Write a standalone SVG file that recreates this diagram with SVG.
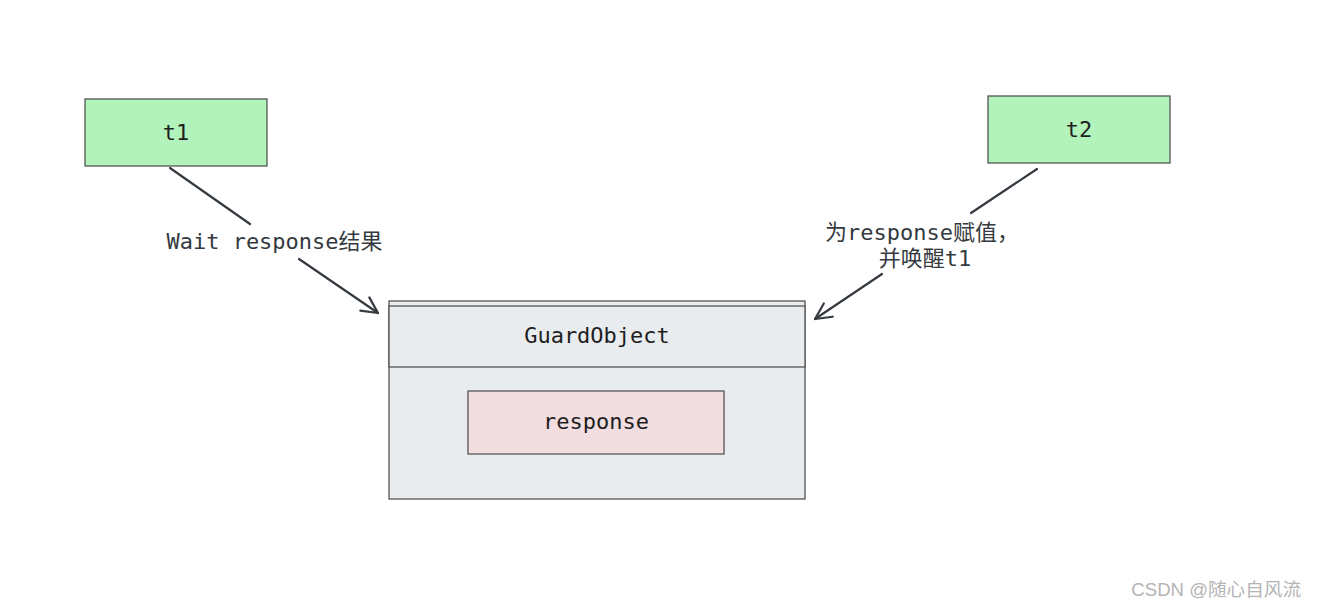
<svg xmlns="http://www.w3.org/2000/svg" width="1317" height="608" viewBox="0 0 1317 608">
<style>
.box{stroke:#555555;stroke-width:1.3}
.green{fill:#b2f2bb}
.gray{fill:#e9ecef}
.pink{fill:#f2dde0}
.t{font-family:"DejaVu Sans Mono","Noto Sans CJK SC",monospace;font-size:22px;fill:#1e1e1e;text-anchor:middle}
.lbl{font-family:"DejaVu Sans Mono","Noto Sans CJK SC",monospace;font-size:22px;fill:#343a40;text-anchor:middle}
.conn{stroke:#343a40;stroke-width:2.2;fill:none;stroke-linecap:round}
</style>
<defs>
<marker id="arr" viewBox="0 0 20 20" refX="18" refY="10" markerWidth="20" markerHeight="20" markerUnits="userSpaceOnUse" orient="auto">
<path d="M2,2 L18,10 L2,18" fill="none" stroke="#343a40" stroke-width="2.2" stroke-linecap="round" stroke-linejoin="round"/>
</marker>
</defs>
<rect width="1317" height="608" fill="#ffffff"/>
<g id="t1">
<rect class="box green" x="85" y="99" width="182" height="67"/>
<text class="t" x="176" y="140">t1</text>
</g>
<g id="t2">
<rect class="box green" x="988" y="96" width="182" height="67"/>
<text class="t" x="1079" y="137">t2</text>
</g>
<g id="guardobject">
<rect class="box gray" x="389" y="301" width="416" height="198"/>
<rect class="box gray" x="389" y="306" width="416" height="61"/>
<text class="t" x="597" y="343">GuardObject</text>
</g>
<g id="response">
<rect class="box pink" x="468" y="391" width="256" height="63"/>
<text class="t" x="596" y="429">response</text>
</g>
<g id="connectors">
<line class="conn" x1="170" y1="168" x2="250" y2="224"/>
<line class="conn" x1="299" y1="259" x2="378" y2="313" marker-end="url(#arr)"/>
<text class="lbl" x="274.5" y="249">Wait response结果</text>
<line class="conn" x1="1037" y1="169" x2="971" y2="213"/>
<line class="conn" x1="882" y1="274" x2="815" y2="319" marker-end="url(#arr)"/>
<text class="lbl" x="922" y="240">为response赋值，</text>
<text class="lbl" x="925" y="266">并唤醒t1</text>
</g>
<text x="1301" y="596" font-family="'Liberation Sans','Noto Sans CJK SC',sans-serif" font-size="18.6" fill="#b4b4b4" text-anchor="end">CSDN @随心自风流</text>
</svg>
